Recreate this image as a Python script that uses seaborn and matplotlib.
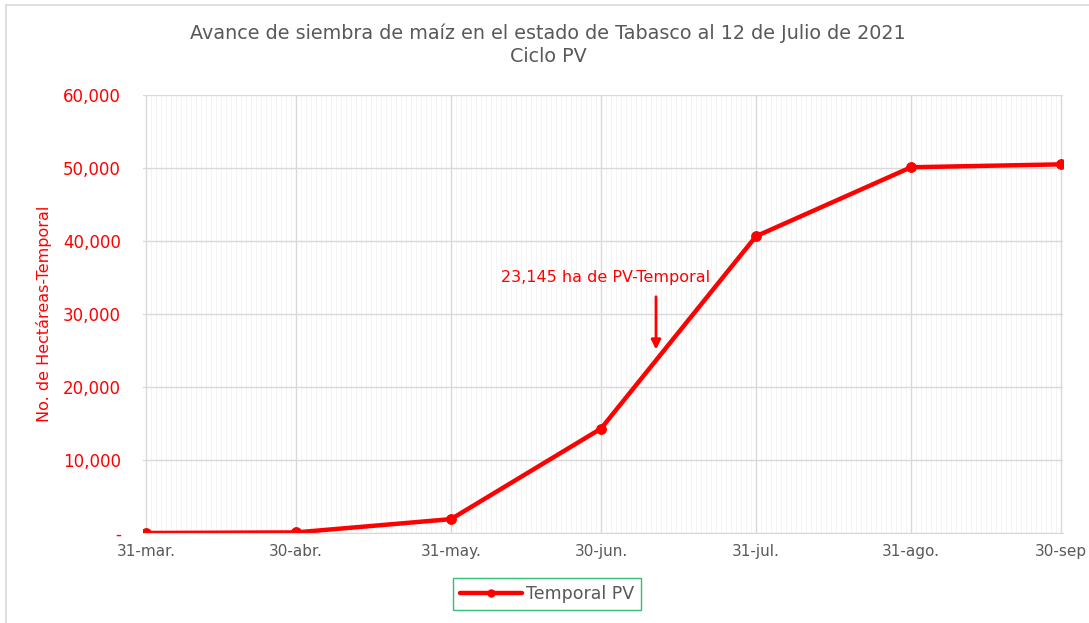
import matplotlib
matplotlib.use("Agg")
import matplotlib.pyplot as plt
import matplotlib.dates as mdates
import matplotlib.ticker as mticker
from matplotlib.patches import Rectangle
import seaborn as sns
import pandas as pd
import numpy as np

fechas = ["2021-03-31", "2021-04-30", "2021-05-31", "2021-06-30", "2021-07-31", "2021-08-31", "2021-09-30"]
etiquetas_x = ["31-mar.", "30-abr.", "31-may.", "30-jun.", "31-jul.", "31-ago.", "30-sep"]
hectareas = [0, 80, 1900, 14300, 40650, 50100, 50500]
serie = "Temporal PV"
anot_fecha = "2021-07-12"
anot_valor = 23145
anot_texto = "23,145 ha de PV-Temporal"
titulo = "Avance de siembra de maíz en el estado de Tabasco al 12 de Julio de 2021\nCiclo PV"
ylabel = "No. de Hectáreas-Temporal"

sns.set_style("white")
plt.rcParams['font.family'] = ['DejaVu Sans']

df = pd.DataFrame({"fecha": pd.to_datetime(fechas), "ha": hectareas, "serie": serie})

fig = plt.figure(figsize=(10.89, 6.23), dpi=100)
ax = fig.add_axes([143/1089, 1 - 533/623, (1063-143)/1089, (533-95)/623])

red = "#ff0000"
gray = "#595959"
sns.lineplot(data=df, x="fecha", y="ha", ax=ax, color=red, linewidth=3.2,
             marker="o", markersize=7, markeredgecolor=red, label=serie, legend=False)

x0 = pd.Timestamp(fechas[0]) - pd.Timedelta(days=0.6)
x1 = pd.Timestamp(fechas[-1]) + pd.Timedelta(days=0.4)
ax.set_xlim(x0, x1)
ax.set_ylim(0, 60000)

ax.set_xticks(pd.to_datetime(fechas))
ax.set_xticklabels(etiquetas_x)
ax.xaxis.set_minor_locator(mdates.DayLocator())
ax.yaxis.set_major_locator(mticker.MultipleLocator(10000))
ax.yaxis.set_major_formatter(mticker.FuncFormatter(lambda v, p: "-" if v == 0 else f"{int(v):,}"))

ax.grid(which="major", axis="both", color="#d9d9d9", linewidth=1.0)
ax.grid(which="minor", axis="x", color="#f4f4f4", linewidth=0.7)
ax.set_axisbelow(True)
for s in ["top", "right", "left"]:
    ax.spines[s].set_visible(False)
ax.spines["bottom"].set_color("#d9d9d9")

ax.tick_params(axis="x", which="both", length=0, labelsize=11, colors=gray, pad=8)
ax.tick_params(axis="y", length=0, labelsize=12, colors=red, pad=16)
ax.set_xlabel("")
ax.set_ylabel(ylabel, color=red, fontsize=11.5, labelpad=8)

fig.text(548/1089, 1 - 45/623, titulo, color=gray, fontsize=13.8, ha="center", va="center",
         linespacing=1.25)

xa = mdates.date2num(pd.Timestamp(anot_fecha))
ax.annotate("", xy=(xa - 1, anot_valor + 1600), xytext=(xa - 1, anot_valor + 9600),
            arrowprops=dict(arrowstyle="-|>", color=red, lw=2, mutation_scale=14))
ax.text(xa - 11, anot_valor + 10800, anot_texto, color=red, fontsize=11.5, ha="center", va="bottom")

leg = fig.legend(loc="center", bbox_to_anchor=(547/1089, 1 - 594/623), frameon=True,
                 fontsize=12.5, handlelength=3.6, borderpad=0.4, fancybox=False,
                 handletextpad=0.2, markerscale=0.75, borderaxespad=0)
leg.get_frame().set_edgecolor("#00b050")
leg.get_frame().set_linewidth(1.0)
for t in leg.get_texts():
    t.set_color(gray)

fig.patches.append(Rectangle((6/1089, -0.5), 1.2, 1.5 - 5/623, transform=fig.transFigure,
                             fill=False, edgecolor="#d9d9d9", linewidth=1.2))

fig.savefig("out.png", dpi=100)
